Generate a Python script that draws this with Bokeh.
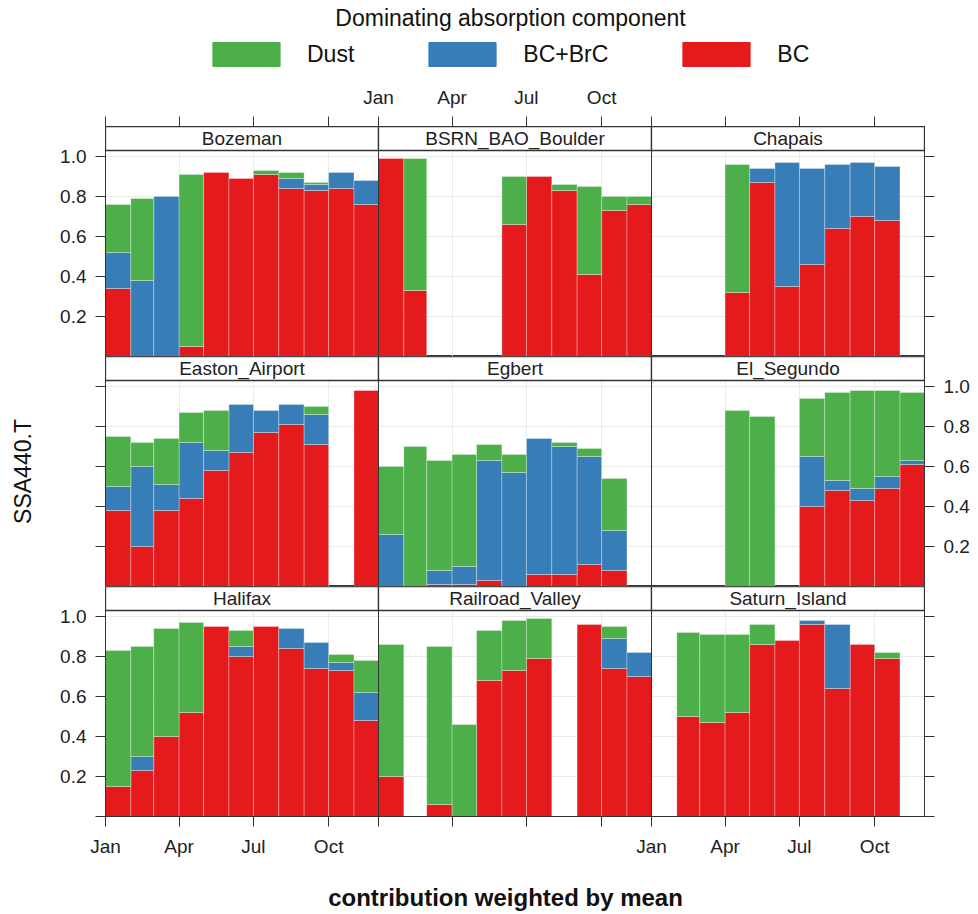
import numpy as np
from bokeh.plotting import figure
from bokeh.models import (Range1d, FixedTicker, LinearAxis, Span, Label, Legend, LegendItem,
                          CustomJSTickFormatter, Grid, ColumnDataSource)
from bokeh.layouts import column
from bokeh.embed import file_html
from bokeh.resources import INLINE
from bokeh.core.properties import value

# ---------------- data ----------------
sites = ["Bozeman", "BSRN_BAO_Boulder", "Chapais",
         "Easton_Airport", "Egbert", "El_Segundo",
         "Halifax", "Railroad_Valley", "Saturn_Island"]
months = ["Jan", "Feb", "Mar", "Apr", "May", "Jun", "Jul", "Aug", "Sep", "Oct", "Nov"]
month_days = [31, 28, 31, 30, 31, 30, 31, 31, 30, 31, 30]
tick_months = ["Jan", "Apr", "Jul", "Oct"]
y_ticks = [0.0, 0.2, 0.4, 0.6, 0.8, 1.0]
y_tick_labels = ["", "0.2", "0.4", "0.6", "0.8", "1.0"]
components = ["Dust", "BC+BrC", "BC"]
component_colors = {"Dust": "#4DAF4A", "BC+BrC": "#377EB8", "BC": "#E41A1C"}

bc_values = [
    [0.34, 0.00, 0.00, 0.05, 0.92, 0.89, 0.91, 0.84, 0.83, 0.84, 0.76],
    [0.99, 0.33, None, None, None, 0.66, 0.90, 0.83, 0.41, 0.73, 0.76],
    [None, None, None, 0.32, 0.87, 0.35, 0.46, 0.64, 0.70, 0.68, None],
    [0.38, 0.20, 0.38, 0.44, 0.58, 0.67, 0.77, 0.81, 0.71, None, 0.98],
    [0.00, 0.00, 0.01, 0.01, 0.03, 0.00, 0.06, 0.06, 0.11, 0.08, None],
    [None, None, None, 0.00, 0.00, None, 0.40, 0.48, 0.43, 0.49, 0.61],
    [0.15, 0.23, 0.40, 0.52, 0.95, 0.80, 0.95, 0.84, 0.74, 0.73, 0.48],
    [0.20, None, 0.06, 0.00, 0.68, 0.73, 0.79, None, 0.96, 0.74, 0.70],
    [None, 0.50, 0.47, 0.52, 0.86, 0.88, 0.96, 0.64, 0.86, 0.79, None],
]
brc_values = [
    [0.18, 0.38, 0.80, 0.00, 0.00, 0.00, 0.00, 0.05, 0.03, 0.08, 0.12],
    [0.00, 0.00, None, None, None, 0.00, 0.00, 0.00, 0.00, 0.00, 0.00],
    [None, None, None, 0.00, 0.07, 0.62, 0.48, 0.32, 0.27, 0.27, None],
    [0.12, 0.40, 0.13, 0.28, 0.10, 0.24, 0.11, 0.10, 0.15, None, 0.00],
    [0.26, 0.00, 0.07, 0.09, 0.60, 0.57, 0.68, 0.64, 0.54, 0.20, None],
    [None, None, None, 0.00, 0.00, None, 0.25, 0.05, 0.06, 0.06, 0.02],
    [0.00, 0.07, 0.00, 0.00, 0.00, 0.05, 0.00, 0.10, 0.13, 0.04, 0.14],
    [0.00, None, 0.00, 0.00, 0.00, 0.00, 0.00, None, 0.00, 0.15, 0.12],
    [None, 0.00, 0.00, 0.00, 0.00, 0.00, 0.02, 0.32, 0.00, 0.00, None],
]
dust_values = [
    [0.24, 0.41, 0.00, 0.86, 0.00, 0.00, 0.02, 0.03, 0.01, 0.00, 0.00],
    [0.00, 0.66, None, None, None, 0.24, 0.00, 0.03, 0.44, 0.07, 0.04],
    [None, None, None, 0.64, 0.00, 0.00, 0.00, 0.00, 0.00, 0.00, None],
    [0.25, 0.12, 0.23, 0.15, 0.20, 0.00, 0.00, 0.00, 0.04, None, 0.00],
    [0.34, 0.70, 0.55, 0.56, 0.08, 0.09, 0.00, 0.02, 0.04, 0.26, None],
    [None, None, None, 0.88, 0.85, None, 0.29, 0.44, 0.49, 0.43, 0.34],
    [0.68, 0.55, 0.54, 0.45, 0.00, 0.08, 0.00, 0.00, 0.00, 0.04, 0.16],
    [0.66, None, 0.79, 0.46, 0.25, 0.25, 0.20, None, 0.00, 0.06, 0.00],
    [None, 0.42, 0.44, 0.39, 0.10, 0.00, 0.00, 0.00, 0.00, 0.03, None],
]

# ---------------- styling ----------------
FONT = "Liberation Sans"
TXT = "#222222"
LINE = "#333333"
GRID = "#ebebeb"
Y_PANEL_TOP = 1.03
Y_STRIP_TOP = 1.15
BORDER_L, BORDER_R = 105, 54

starts = np.concatenate([[0], np.cumsum(month_days)]).astype(int)
span = int(starts[-1])
x_ticks = [int(c * span + starts[months.index(t)]) for c in range(3) for t in tick_months]


def segments(site_indices):
    """Stacked segments (BC bottom, BC+BrC middle, Dust top) for the given sites."""
    segs = {k: dict(left=[], right=[], bottom=[], top=[]) for k in components}
    for c, i in enumerate(site_indices):
        off = c * span
        for m in range(len(months)):
            b = bc_values[i][m]
            if b is None:
                continue
            br = brc_values[i][m]
            d = dust_values[i][m]
            levels = [("BC", 0.0, b), ("BC+BrC", b, b + br), ("Dust", b + br, b + br + d)]
            for name, lo, hi in levels:
                if hi - lo <= 0:
                    continue
                segs[name]["left"].append(off + int(starts[m]))
                segs[name]["right"].append(off + int(starts[m + 1]))
                segs[name]["bottom"].append(lo)
                segs[name]["top"].append(hi)
    return segs


def style_axis(ax):
    ax.major_tick_out = 10
    ax.major_tick_in = 0
    ax.minor_tick_out = 0
    ax.minor_tick_in = 0
    ax.axis_line_color = LINE
    ax.major_tick_line_color = LINE
    ax.major_label_text_font = FONT
    ax.major_label_text_font_size = "19px"
    ax.major_label_text_color = TXT
    ax.major_label_standoff = 9


def x_axis(labelled_cols):
    ax = LinearAxis(ticker=FixedTicker(ticks=x_ticks))
    ov = {}
    for c in range(3):
        for t in tick_months:
            v = int(c * span + starts[months.index(t)])
            ov[v] = t if c in labelled_cols else ""
    ax.major_label_overrides = ov
    style_axis(ax)
    return ax


def y_axis(labelled):
    ax = LinearAxis(ticker=FixedTicker(ticks=y_ticks))
    if labelled:
        ax.major_label_overrides = {t: l for t, l in zip(y_ticks, y_tick_labels)}
    else:
        ax.formatter = CustomJSTickFormatter(code="return ''")
    style_axis(ax)
    return ax


def make_row(r):
    top_b = 46 if r == 0 else 0
    bot_b = 50 if r == 2 else 0
    p = figure(width=978, height=230 + top_b + bot_b,
               x_range=Range1d(0, 3 * span), y_range=Range1d(0, Y_STRIP_TOP),
               output_backend="svg", toolbar_location=None,
               x_axis_location=None, y_axis_location=None,
               min_border_left=BORDER_L, min_border_right=BORDER_R,
               min_border_top=top_b, min_border_bottom=bot_b)
    p.outline_line_color = LINE
    p.outline_line_width = 1
    p.background_fill_color = "white"
    p.border_fill_color = "white"
    for g in p.grid:
        g.visible = False
    p.add_layout(Grid(dimension=0, ticker=FixedTicker(ticks=x_ticks),
                      grid_line_color=GRID, grid_line_width=1))
    p.add_layout(Grid(dimension=1, ticker=FixedTicker(ticks=y_ticks[1:]),
                      grid_line_color=GRID, grid_line_width=1))

    segs = segments(range(3 * r, 3 * r + 3))
    for name in ["BC", "BC+BrC", "Dust"]:
        p.quad(source=ColumnDataSource(segs[name]), left="left", right="right",
               bottom="bottom", top="top", fill_color=component_colors[name],
               line_color="white", line_alpha=0.3, line_width=1)

    # strips
    strip = ColumnDataSource(dict(
        left=[c * span for c in range(3)], right=[(c + 1) * span for c in range(3)],
        bottom=[Y_PANEL_TOP] * 3, top=[Y_STRIP_TOP] * 3,
        x=[(c + 0.5) * span for c in range(3)],
        y=[(Y_PANEL_TOP + Y_STRIP_TOP) / 2] * 3,
        name=sites[3 * r:3 * r + 3]))
    p.quad(source=strip, left="left", right="right", bottom="bottom", top="top",
           fill_color="white", line_color=LINE, line_width=1.3)
    p.text(source=strip, x="x", y="y", text="name", text_align="center",
           text_baseline="middle", text_font=value(FONT),
           text_font_size=value("19px"), text_color=TXT)

    for c in (1, 2):
        p.add_layout(Span(location=c * span, dimension="height",
                          line_color=LINE, line_width=1))

    # axes (lattice alternating)
    left = y_axis(r != 1)
    p.add_layout(left, "left")
    p.add_layout(y_axis(r == 1), "right")
    if r == 0:
        p.add_layout(x_axis([1]), "above")
    if r == 2:
        p.add_layout(x_axis([0, 2]), "below")
    if r == 1:
        left.axis_label = "SSA440.T"
        left.axis_label_standoff = 60
        left.axis_label_text_font = FONT
        left.axis_label_text_font_size = "23px"
        left.axis_label_text_font_style = "normal"
        left.axis_label_text_color = "#111111"
    return p


def page_fig(h):
    f = figure(width=978, height=h, x_range=Range1d(BORDER_L, 978 - BORDER_R),
               y_range=Range1d(0, h), output_backend="svg", toolbar_location=None,
               x_axis_location=None, y_axis_location=None,
               min_border_left=BORDER_L, min_border_right=BORDER_R,
               min_border_top=0, min_border_bottom=0)
    f.outline_line_color = None
    for g in f.grid:
        g.visible = False
    return f


# legend figure (renderers carry all bar data but are hidden; they only feed the legend)
lf = page_fig(80)
all_segs = segments(range(9))
items = []
for name in components:
    rr = lf.quad(source=ColumnDataSource(all_segs[name]), left="left", right="right",
                 bottom="bottom", top="top", fill_color=component_colors[name],
                 line_color=component_colors[name])
    rr.visible = False
    items.append(LegendItem(label=name, renderers=[rr]))
legend = Legend(items=items, orientation="horizontal", location=(99, 11),
                glyph_width=84, glyph_height=30, label_standoff=19, spacing=66,
                label_text_font=FONT, label_text_font_size="23px", label_text_color="#111111",
                border_line_color=None, background_fill_alpha=0, padding=0, margin=0)
lf.add_layout(legend)
lf.add_layout(Label(x=510, y=63, text="Dominating absorption component",
                    text_align="center", text_baseline="middle",
                    text_font=FONT, text_font_size="23px", text_color="#111111"))

# footer with x label
ff = page_fig(48)
ff.add_layout(Label(x=505, y=17, text="contribution weighted by mean",
                    text_align="center", text_baseline="middle",
                    text_font=FONT, text_font_size="24px", text_font_style="bold",
                    text_color="#111111"))

layout = column(lf, make_row(0), make_row(1), make_row(2), ff, spacing=0)
open("out.html", "w").write(file_html(layout, INLINE))
